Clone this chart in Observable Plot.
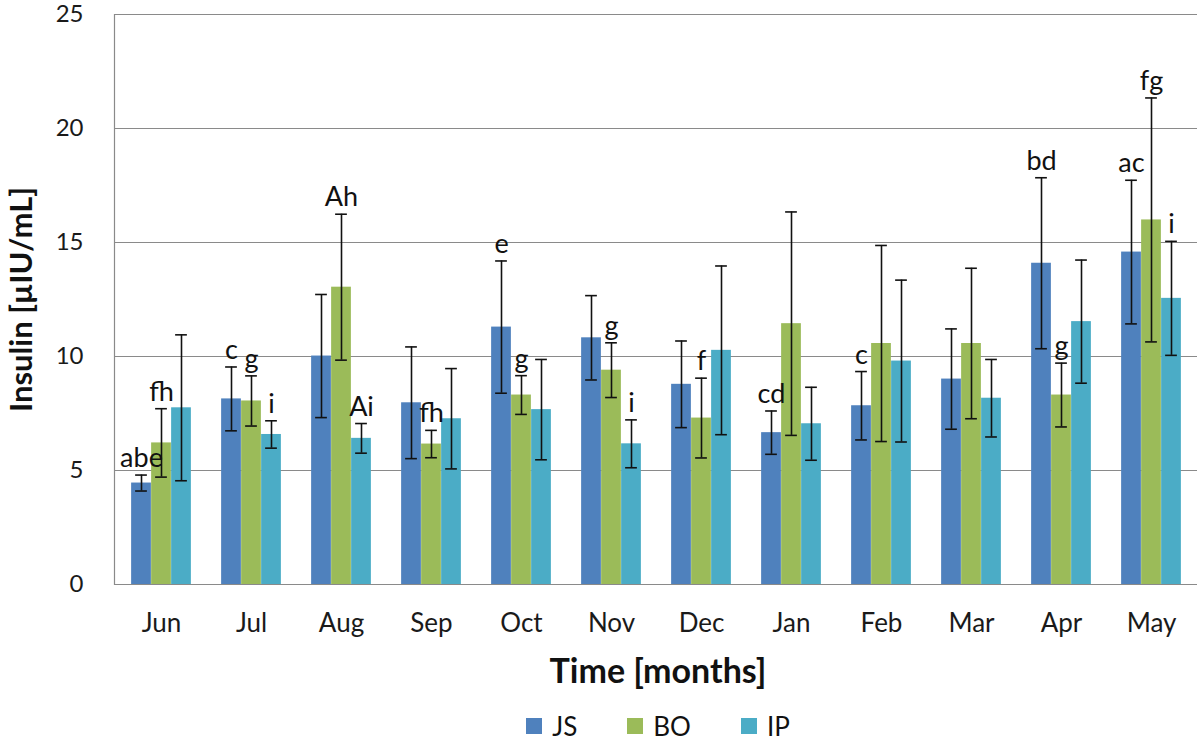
<!DOCTYPE html>
<html>
<head>
<meta charset="utf-8">
<script src="https://cdn.jsdelivr.net/npm/d3@7"></script>
<script src="https://cdn.jsdelivr.net/npm/@observablehq/plot@0.6"></script>
<style>
  html, body { margin: 0; padding: 0; background: #fff; }
  #chart { width: 1200px; }
  .legend { display: flex; justify-content: center; align-items: center; height: 40px;
            padding-left: 116px; box-sizing: border-box; width: 1200px;
            font-family: Lato, "Open Sans", sans-serif; font-size: 26px; color: #111; }
  .legend .item { display: flex; align-items: center; margin: 0 25px; }
  .legend .sw { width: 16px; height: 16px; margin-right: 10px; }
</style>
</head>
<body>
<div id="chart"></div>
<script>
const months = ["Jun","Jul","Aug","Sep","Oct","Nov","Dec","Jan","Feb","Mar","Apr","May"];
const series = ["JS","BO","IP"];
const colors = ["#4F81BD","#9BBB59","#4BACC6"];

const jsMean = [4.45, 8.14, 10.02, 7.97, 11.29, 10.82, 8.78, 6.66, 7.84, 9.01, 14.09, 14.58];
const jsErr  = [0.35, 1.40, 2.70, 2.45, 2.90, 1.85, 1.90, 0.95, 1.50, 2.20, 3.75, 3.15];
const boMean = [6.21, 8.05, 13.04, 6.16, 8.31, 9.40, 7.30, 11.44, 10.57, 10.57, 8.31, 15.99];
const boErr  = [1.50, 1.10, 3.20, 0.60, 0.85, 1.20, 1.75, 4.90, 4.30, 3.30, 1.40, 5.35];
const ipMean = [7.75, 6.58, 6.41, 7.27, 7.67, 6.17, 10.27, 7.05, 9.80, 8.17, 11.53, 12.55];
const ipErr  = [3.20, 0.60, 0.65, 2.20, 2.20, 1.05, 3.70, 1.60, 3.55, 1.70, 2.70, 2.50];

const jsLetters = ["abe","c","","","e","","","cd","c","","bd","ac"];
const boLetters = ["fh","g","Ah","fh","g","g","f","","","","g","fg"];
const ipLetters = ["","i","Ai","","","i","","","","","","i"];

const yTicks = [0, 5, 10, 15, 20, 25];
const yTitle = "Insulin [µIU/mL]";
const xTitle = "Time [months]";

const means = [jsMean, boMean, ipMean];
const errs = [jsErr, boErr, ipErr];
const letters = [jsLetters, boLetters, ipLetters];

const rows = [];
series.forEach((s, i) => months.forEach((m, j) => rows.push({
  series: s, si: i, month: m, value: means[i][j], err: errs[i][j], letter: letters[i][j]
})));

const W = 1200, H = 706, ML = 114, MR = 3, MT = 14, MB = 122;
const band = (W - ML - MR) / months.length;
const barW = 20;
const capW = 12;
const groupStart = (band - barW * series.length) / 2;

const font = "Lato, 'Open Sans', sans-serif";
const marks = [
  Plot.ruleY(yTicks, {stroke: "#8a8a8a", strokeWidth: 1.2}),
  Plot.frame({anchor: "left", stroke: "#8a8a8a", strokeWidth: 1.2}),
  Plot.axisX({tickSize: 0, tickPadding: 29, fontSize: 26, label: null, fill: "#1a1a1a"}),
  Plot.axisY({ticks: yTicks, tickSize: 0, tickPadding: 31, fontSize: 24, label: null, fill: "#1a1a1a"}),
];
const labelMarks = [];
series.forEach((s, i) => {
  const d = rows.filter(r => r.si === i);
  const off = (i - 1) * barW;
  marks.push(Plot.barY(d, {
    x: "month", y: "value", fill: "series",
    insetLeft: groupStart + barW * i, insetRight: band - groupStart - barW * (i + 1)
  }));
  marks.push(Plot.ruleX(d, {
    x: "month", y1: r => r.value - r.err, y2: r => r.value + r.err,
    dx: off, stroke: "#111", strokeWidth: 1.6
  }));
  marks.push(Plot.tickY(d, {
    x: "month", y: r => r.value + r.err, dx: off,
    insetLeft: (band - capW) / 2, insetRight: (band - capW) / 2, stroke: "#111", strokeWidth: 1.6
  }));
  marks.push(Plot.tickY(d, {
    x: "month", y: r => r.value - r.err, dx: off,
    insetLeft: (band - capW) / 2, insetRight: (band - capW) / 2, stroke: "#111", strokeWidth: 1.6
  }));
  labelMarks.push(Plot.text(d.filter(r => r.letter), {
    x: "month", y: r => r.value + r.err, text: "letter", dx: off, dy: -8,
    lineAnchor: "bottom", fontSize: 27, fill: "#111"
  }));
});
marks.push(...labelMarks);
marks.push(Plot.text([yTitle], {frameAnchor: "left", dx: -92, rotate: -90, textAnchor: "middle", lineAnchor: "middle",
  fontSize: 31, fontWeight: "bold", fill: "#111"}));
marks.push(Plot.text([xTitle], {frameAnchor: "bottom", dx: 2, dy: 88, textAnchor: "middle", lineAnchor: "middle",
  fontSize: 34, fontWeight: "bold", fill: "#111"}));

const plot = Plot.plot({
  width: W, height: H,
  marginLeft: ML, marginRight: MR, marginTop: MT, marginBottom: MB,
  style: {fontFamily: font, background: "#fff", overflow: "visible"},
  x: {domain: months, padding: 0},
  y: {domain: [0, 25]},
  color: {domain: series, range: colors},
  marks
});
document.getElementById("chart").appendChild(plot);

const legend = document.createElement("div");
legend.className = "legend";
series.forEach((s, i) => {
  const it = document.createElement("div");
  it.className = "item";
  const sw = document.createElement("div");
  sw.className = "sw";
  sw.style.background = colors[i];
  const lab = document.createElement("span");
  lab.textContent = s;
  it.appendChild(sw); it.appendChild(lab);
  legend.appendChild(it);
});
document.getElementById("chart").appendChild(legend);
</script>
</body>
</html>
